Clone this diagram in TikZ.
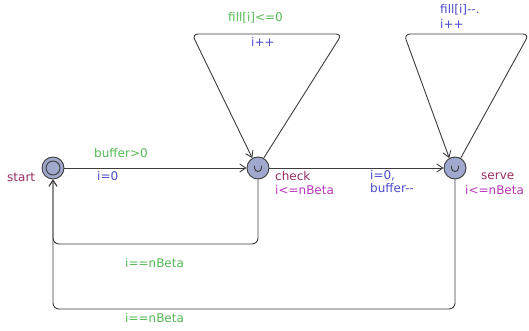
\documentclass[tikz,border=0pt]{standalone}
\usepackage{fontspec}
\setmainfont{DejaVu Sans}
\usetikzlibrary{arrows.meta}
\definecolor{guardc}{RGB}{85,185,85}
\definecolor{assignc}{RGB}{75,75,200}
\definecolor{namec}{RGB}{150,45,95}
\definecolor{invc}{RGB}{185,55,185}
\definecolor{locfill}{RGB}{160,168,205}
\definecolor{edgec}{RGB}{60,60,60}
\tikzset{
  loc/.style={circle, draw=edgec, fill=locfill, line width=0.9pt, minimum size=22pt, inner sep=0pt},
  edge/.style={draw=edgec, line width=0.9pt, rounded corners=6pt, -{Straight Barb[length=6pt,width=8pt]}},
  lbl/.style={font=\fontsize{12}{13}\selectfont, inner sep=0pt, anchor=west},
  guard/.style={lbl, text=guardc},
  assign/.style={lbl, text=assignc},
  lname/.style={lbl, text=namec},
  inv/.style={lbl, text=invc},
}
\begin{document}
\begin{tikzpicture}[x=1pt, y=-1pt]
\useasboundingbox (0,0) rectangle (529,331);
% locations
\node[loc] (start) at (53,168) {};
\draw[edgec, line width=0.9pt] (start.center) circle (7pt);
\node[loc] (check) at (258,168) {};
\node[loc] (serve) at (455,168) {};
% urgent marks
\foreach \n in {check, serve}
  \draw[edgec, line width=0.9pt] ([shift={(-3.5,-2.5)}]\n.center) -- ++(0,2.5)
     arc[start angle=180, end angle=0, radius=3.5] -- ++(0,-2.5);
% location names and invariants
\node[lname] (nstart) at (7,177) {start};
\node[lname] (ncheck) at (275,176) {check};
\node[inv] (icheck) at (275,190) {i<=nBeta};
\node[lname] (nserve) at (481,176) {serve};
\node[inv] (iserve) at (465,190) {i<=nBeta};
% corner points of the loops
\coordinate (c1) at (342,34);
\coordinate (c2) at (192,34);
\coordinate (s1) at (529,34);
\coordinate (s2) at (404,34);
\coordinate (b1) at (258,244);
\coordinate (b2) at (53,244);
\coordinate (d1) at (455,309);
\coordinate (d2) at (53,309);
% edges
\draw[edge] (start) -- (check);
\draw[edge] (check) -- (serve);
\draw[edge] (check.60) -- (c1) -- (c2) -- (check.120);
\draw[edge] (serve.60) -- (s1) -- (s2) -- (serve.120);
\draw[edge] (check.south) -- (b1) -- (b2) -- (start.south);
\draw[edge] (serve.south) -- (d1) -- (d2) -- (start.south);
% edge labels
\node[guard] (g1) at (94,153) {buffer>0};
\node[assign] (a1) at (97,176) {i=0};
\node[assign] (a2) at (370,176) {i=0,};
\node[assign] (a3) at (370,188) {buffer-{}-};
\node[guard] (g2) at (228,18) {fill[i]<=0};
\node[assign] (a4) at (251,42) {i++};
\node[assign] (a5) at (440,10) {fill[i]-{}-.};
\node[assign] (a6) at (440,24) {i++};
\node[guard] (g3) at (125,263) {i==nBeta};
\node[guard] (g4) at (125,318) {i==nBeta};
\end{tikzpicture}
\end{document}
